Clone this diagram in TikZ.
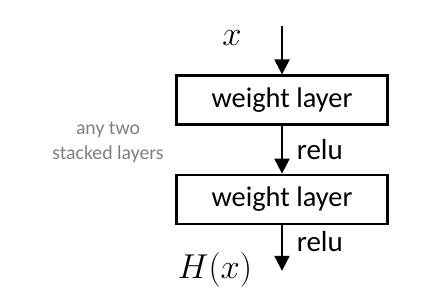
\documentclass[tikz,border=0pt]{standalone}
\usepackage{fontspec}
\setmainfont{Carlito}
\usepackage{tikz}
\usetikzlibrary{arrows.meta, positioning}
\definecolor{mygray}{RGB}{127,127,132}
\tikzset{
  layerbox/.style={rectangle, draw=black, fill=white,
    minimum width=105.5pt, minimum height=24.5pt,
    font=\fontsize{14.2}{17}\selectfont, line width=1.1pt},
  arrow/.style={-{Triangle[length=7.5pt, width=7.5pt]}, line width=1.1pt, color=black},
  lbl/.style={font=\fontsize{14.5}{17}\selectfont},
  mathlbl/.style={font=\fontsize{16}{19}\selectfont},
  note/.style={font=\fontsize{9.9}{12.5}\selectfont, text=mygray, align=center}
}
\begin{document}
\begin{tikzpicture}[x=0.5pt, y=0.5pt, node distance=24pt]
  \useasboundingbox (0,0) rectangle (442,306);
  \node[layerbox] (w1) at (282,206) {weight layer};
  \node[layerbox, below=of w1] (w2) {weight layer};
  \coordinate[above=24pt of w1] (in);
  \coordinate[below=23pt of w2] (out);

  \node[mathlbl] (x) at (232,268) {$x$};
  \node[mathlbl] (hx) at (215,36) {$H(x)$};
  \node[note] (stack) at (108,164) {any two\\stacked layers};

  \draw[arrow] (in) -- (w1.north);
  \draw[arrow] (w1.south) -- node[right, lbl, xshift=3.5pt] (relu1) {relu} (w2.north);
  \draw[arrow] (w2.south) -- node[right, lbl, xshift=3.5pt, yshift=3pt] (relu2) {relu} (out);
\end{tikzpicture}
\end{document}
